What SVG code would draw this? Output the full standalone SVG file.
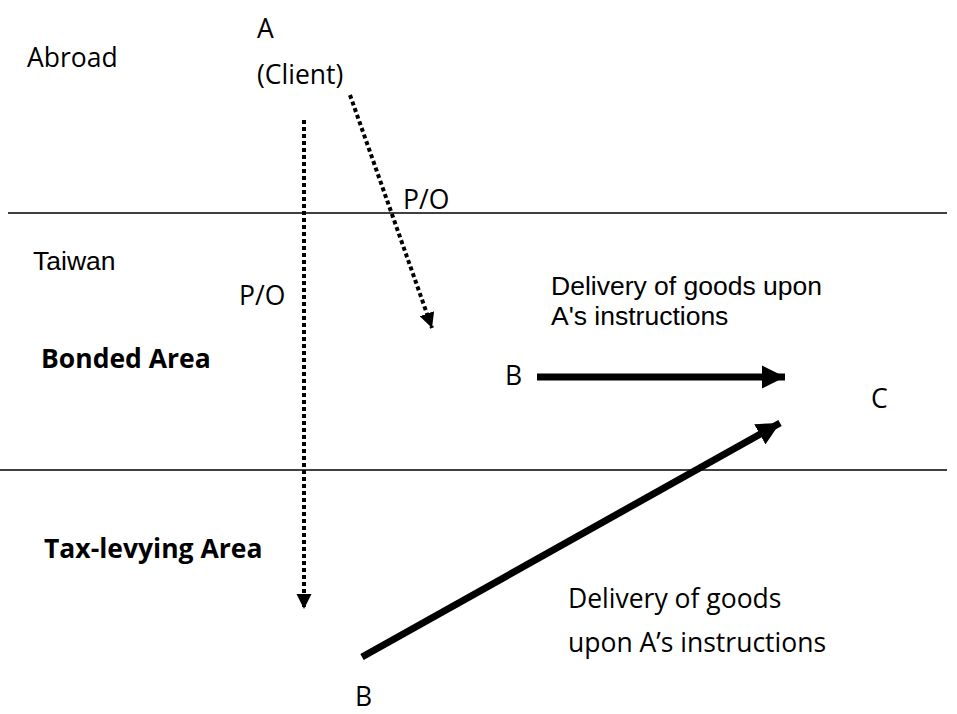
<svg xmlns="http://www.w3.org/2000/svg" width="957" height="714" viewBox="0 0 957 714">
<defs>
<style>
text{font-family:"Open Sans","Noto Sans",sans-serif;fill:#000;font-size:26.5px}
.b{font-weight:bold}
.ar{font-family:"Liberation Sans",Arial,sans-serif}
.rule{stroke:#000;stroke-width:1.5}
.dot{stroke:#000;stroke-width:4;stroke-dasharray:4 3;fill:none}
.solid{stroke:#000;stroke-width:7;fill:none}
</style>
<marker id="hd" viewBox="0 0 10 10" refX="10" refY="5" markerWidth="3.8" markerHeight="3.8" orient="auto" markerUnits="strokeWidth"><path d="M0,0 L10,5 L0,10 z" fill="#000"/></marker>
<marker id="hs" viewBox="0 0 10 10" refX="10" refY="5" markerWidth="3.3" markerHeight="3.3" orient="auto" markerUnits="strokeWidth"><path d="M0,0 L10,5 L0,10 z" fill="#000"/></marker>
</defs>
<rect width="957" height="714" fill="#fff"/>
<g id="zones">
<line class="rule" x1="8" y1="213" x2="947" y2="213"/>
<line class="rule" x1="0" y1="470" x2="947" y2="470"/>
</g>
<g id="connectors">
<line class="dot" x1="304" y1="120" x2="304" y2="609" marker-end="url(#hd)"/>
<line class="dot" x1="350" y1="95" x2="432" y2="328" marker-end="url(#hd)"/>
<line class="solid" x1="537" y1="377" x2="785" y2="377" marker-end="url(#hs)"/>
<line class="solid" x1="362" y1="657" x2="780" y2="423" marker-end="url(#hs)"/>
</g>
<g id="labels">
<text x="27" y="67">Abroad</text>
<text x="33" y="270" class="ar" font-size="25.5">Taiwan</text>
<text x="41" y="368" class="b" font-size="27">Bonded Area</text>
<text x="44" y="558" class="b">Tax-levying Area</text>
<text x="403" y="209">P/O</text>
<text x="239" y="305">P/O</text>
<text x="551" y="295" class="ar" font-size="26.6">Delivery of goods upon</text>
<text x="551" y="325" class="ar" font-size="26.6">A's instructions</text>
<text x="568" y="608">Delivery of goods</text>
<text x="568" y="652">upon A’s instructions</text>
</g>
<g id="nodeA"><text x="257" y="38">A</text><text x="257" y="84">(Client)</text></g>
<g id="nodeB1"><text x="505" y="385" font-size="24">B</text></g>
<g id="nodeB2"><text x="355" y="706" font-size="25">B</text></g>
<g id="nodeC"><text x="871" y="408" font-size="23">C</text></g>
</svg>
